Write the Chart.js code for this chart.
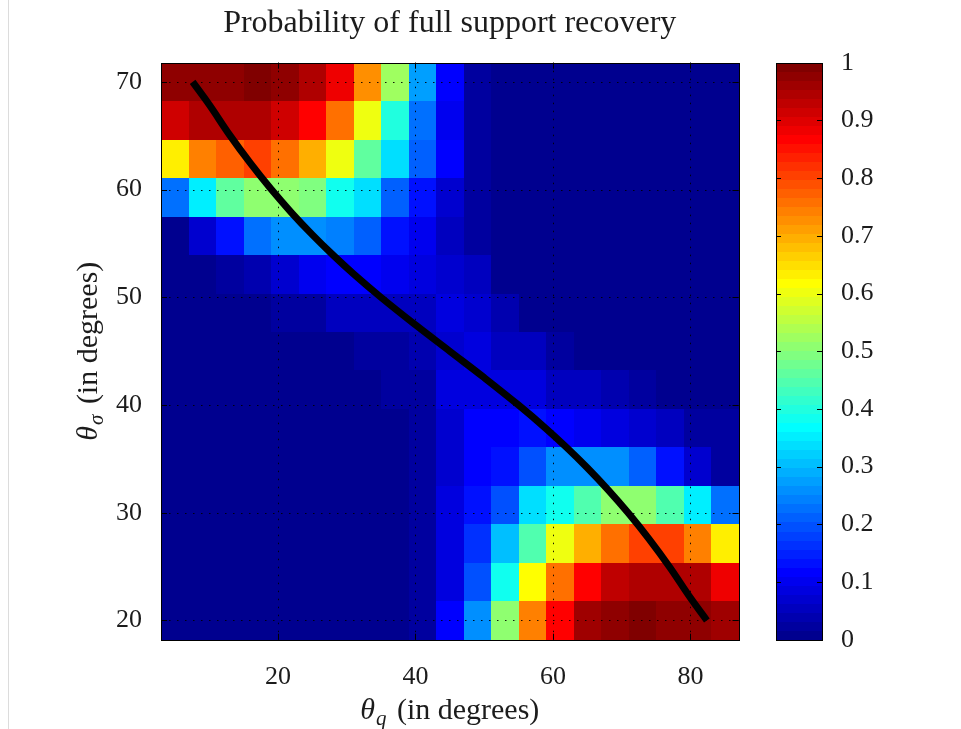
<!DOCTYPE html>
<html>
<head>
<meta charset="utf-8">
<title>Probability of full support recovery</title>
<script src="https://cdn.jsdelivr.net/npm/chart.js@4.4.1/dist/chart.umd.min.js"></script>
<style>
  body { margin: 0; background: #fff; }
  #wrap { position: relative; width: 961px; height: 729px; }
  #wrap canvas { position: absolute; left: 0; top: 0; }
  #edge { position: absolute; left: 8px; top: 0; width: 1px; height: 729px; background: #dcdcdc; }
</style>
</head>
<body>
<div id="wrap">
  <canvas id="heat" width="961" height="729"></canvas>
  <canvas id="cbar" width="961" height="729"></canvas>
  <div id="edge"></div>
</div>
<script>
// grid of the experiment (degrees)
const thetaQ = [5, 9, 13, 17, 21, 25, 29, 33, 37, 41, 45, 49, 53, 57, 61, 65, 69, 73, 77, 81, 85];
const thetaSigma = [20, 23.57, 27.14, 30.71, 34.29, 37.86, 41.43, 45, 48.57, 52.14, 55.71, 59.29, 62.86, 66.43, 70];

// recovery rate, one row per thetaSigma value (lowest first), one entry per thetaQ
const recovery = [
  [0, 0, 0, 0, 0, 0, 0, 0, 0.01, 0.02, 0.12, 0.26, 0.50, 0.74, 0.87, 0.96, 0.98, 1.00, 0.98, 0.97, 0.96],
  [0, 0, 0, 0, 0, 0, 0, 0, 0.01, 0.02, 0.09, 0.20, 0.38, 0.62, 0.75, 0.86, 0.93, 0.95, 0.95, 0.94, 0.89],
  [0, 0, 0, 0, 0, 0, 0, 0, 0.01, 0.02, 0.08, 0.16, 0.30, 0.45, 0.60, 0.70, 0.75, 0.80, 0.80, 0.74, 0.63],
  [0, 0, 0, 0, 0, 0, 0, 0, 0.01, 0.02, 0.08, 0.13, 0.20, 0.33, 0.38, 0.45, 0.50, 0.50, 0.44, 0.35, 0.22],
  [0, 0, 0, 0, 0, 0, 0, 0, 0.01, 0.02, 0.07, 0.11, 0.14, 0.20, 0.26, 0.26, 0.25, 0.21, 0.14, 0.07, 0.02],
  [0, 0, 0, 0, 0, 0, 0, 0, 0.01, 0.02, 0.07, 0.11, 0.12, 0.13, 0.11, 0.10, 0.08, 0.07, 0.05, 0.03, 0.02],
  [0, 0, 0, 0, 0, 0, 0, 0.01, 0.02, 0.03, 0.08, 0.08, 0.09, 0.09, 0.06, 0.06, 0.04, 0.02, 0.01, 0.01, 0.01],
  [0, 0, 0, 0, 0, 0, 0, 0.03, 0.03, 0.04, 0.07, 0.08, 0.06, 0.05, 0.03, 0, 0, 0, 0, 0, 0],
  [0, 0, 0, 0, 0.02, 0.03, 0.06, 0.06, 0.05, 0.06, 0.08, 0.07, 0.04, 0, 0, 0, 0, 0, 0, 0, 0],
  [0, 0.01, 0.02, 0.04, 0.07, 0.10, 0.12, 0.12, 0.10, 0.08, 0.07, 0.05, 0, 0, 0, 0, 0, 0, 0, 0, 0],
  [0.01, 0.07, 0.14, 0.22, 0.25, 0.26, 0.24, 0.21, 0.13, 0.10, 0.06, 0.02, 0, 0, 0, 0, 0, 0, 0, 0, 0],
  [0.22, 0.35, 0.46, 0.50, 0.51, 0.49, 0.39, 0.33, 0.21, 0.13, 0.07, 0.03, 0, 0, 0, 0, 0, 0, 0, 0, 0],
  [0.63, 0.74, 0.77, 0.80, 0.76, 0.69, 0.60, 0.46, 0.33, 0.21, 0.11, 0.03, 0, 0, 0, 0, 0, 0, 0, 0, 0],
  [0.91, 0.95, 0.95, 0.95, 0.92, 0.87, 0.76, 0.60, 0.40, 0.22, 0.10, 0.03, 0, 0, 0, 0, 0, 0, 0, 0, 0],
  [0.97, 0.97, 0.97, 1.00, 0.97, 0.95, 0.88, 0.73, 0.52, 0.28, 0.12, 0.03, 0, 0, 0, 0, 0, 0, 0, 0, 0]
];

// theoretical boundary
const boundaryQ = [7.6, 10, 13, 16, 19, 22, 25, 28, 31, 35, 40, 45, 50, 55, 59, 62, 65, 68, 71, 74, 77, 80, 82.4];
const boundarySigma = [70.0, 67.9, 65.06, 62.45, 60.05, 57.85, 55.82, 53.94, 52.18, 50.0, 47.45, 45.0,
  42.55, 40.0, 37.82, 36.06, 34.18, 32.15, 29.95, 27.55, 24.94, 22.1, 20.0];

const xTicks = [20, 40, 60, 80];
const yTicks = [20, 30, 40, 50, 60, 70];
const cbarTicks = [0, 0.1, 0.2, 0.3, 0.4, 0.5, 0.6, 0.7, 0.8, 0.9, 1];
const cbarLabels = ['0', '0.1', '0.2', '0.3', '0.4', '0.5', '0.6', '0.7', '0.8', '0.9', '1'];

const serif = '"Liberation Serif", "Times New Roman", serif';
const ink = '#1c1c1c';

// matlab style jet(64)
function jetRGB(i) {
  const u = k => (k < 1 || k > 47) ? 0 : k <= 16 ? k / 16 : k <= 31 ? 1 : (48 - k) / 16;
  return [u(i - 24), u(i - 8), u(i + 8)];
}
function jet(v) {
  const i = Math.min(64, Math.max(1, Math.floor(v * 64) + 1));
  const c = jetRGB(i).map(t => Math.round(t * 255));
  return `rgb(${c[0]},${c[1]},${c[2]})`;
}

function edges(vals) {
  const e = [vals[0] - (vals[1] - vals[0]) / 2];
  for (let i = 0; i < vals.length - 1; i++) e.push((vals[i] + vals[i + 1]) / 2);
  e.push(vals[vals.length - 1] + (vals[vals.length - 1] - vals[vals.length - 2]) / 2);
  return e;
}
const qEdges = edges(thetaQ);
const sEdges = edges(thetaSigma);

function drawTicksInward(ctx, a, xs, ys, len) {
  ctx.save();
  ctx.strokeStyle = '#000';
  ctx.lineWidth = 1;
  ctx.beginPath();
  xs.forEach(px => {
    const p = Math.round(px) + 0.5;
    ctx.moveTo(p, a.bottom); ctx.lineTo(p, a.bottom - len);
    ctx.moveTo(p, a.top); ctx.lineTo(p, a.top + len);
  });
  ys.forEach(py => {
    const p = Math.round(py) + 0.5;
    ctx.moveTo(a.left, p); ctx.lineTo(a.left + len, p);
    ctx.moveTo(a.right, p); ctx.lineTo(a.right - len, p);
  });
  ctx.stroke();
  ctx.strokeRect(Math.round(a.left) + 0.5, Math.round(a.top) + 0.5,
    Math.round(a.right) - Math.round(a.left), Math.round(a.bottom) - Math.round(a.top));
  ctx.restore();
}

function drawAxisTitle(ctx, cx, base, sym, sub, rest, size) {
  const main = `italic ${size}px ${serif}`;
  const small = `italic ${Math.round(size * 0.7)}px ${serif}`;
  const plain = `${size}px ${serif}`;
  ctx.font = main; const w1 = ctx.measureText(sym).width;
  ctx.font = small; const w2 = ctx.measureText(sub).width;
  ctx.font = plain; const w3 = ctx.measureText(rest).width;
  const gap = size * 0.35;
  let x = cx - (w1 + 1 + w2 + gap + w3) / 2;
  ctx.fillStyle = ink;
  ctx.textAlign = 'left';
  ctx.textBaseline = 'alphabetic';
  ctx.font = main; ctx.fillText(sym, x, base); x += w1 + 1;
  ctx.font = small; ctx.fillText(sub, x, base + size * 0.2); x += w2 + gap;
  ctx.font = plain; ctx.fillText(rest, x, base);
}

const heatmapPlugin = {
  id: 'heatmap',
  beforeDraw(chart) {
    const ctx = chart.ctx;
    ctx.save();
    ctx.fillStyle = '#fff';
    ctx.fillRect(0, 0, chart.width, chart.height);
    ctx.restore();
  },
  beforeDatasetsDraw(chart) {
    const { ctx, chartArea: a, scales: { x, y } } = chart;
    ctx.save();
    recovery.forEach((row, j) => {
      const top = Math.round(y.getPixelForValue(sEdges[j + 1]));
      const bot = Math.round(y.getPixelForValue(sEdges[j]));
      row.forEach((v, i) => {
        const l = Math.round(x.getPixelForValue(qEdges[i]));
        const r = Math.round(x.getPixelForValue(qEdges[i + 1]));
        ctx.fillStyle = jet(v);
        ctx.fillRect(l, top, r - l, bot - top);
      });
    });
    // dotted grid
    ctx.strokeStyle = 'rgba(0,0,0,0.9)';
    ctx.lineWidth = 1;
    ctx.setLineDash([1.5, 6.5]);
    ctx.beginPath();
    xTicks.forEach(t => {
      const p = Math.round(x.getPixelForValue(t)) + 0.5;
      ctx.moveTo(p, a.top); ctx.lineTo(p, a.bottom);
    });
    yTicks.forEach(t => {
      const p = Math.round(y.getPixelForValue(t)) + 0.5;
      ctx.moveTo(a.left, p); ctx.lineTo(a.right, p);
    });
    ctx.stroke();
    ctx.restore();
    drawTicksInward(ctx, a, xTicks.map(t => x.getPixelForValue(t)), yTicks.map(t => y.getPixelForValue(t)), 6);
  },
  afterDraw(chart) {
    const { ctx, chartArea: a } = chart;
    ctx.save();
    drawAxisTitle(ctx, (a.left + a.right) / 2, 719, '\u03b8', 'q', '(in degrees)', 30);
    ctx.translate(97, (a.top + a.bottom) / 2);
    ctx.rotate(-Math.PI / 2);
    drawAxisTitle(ctx, 0, 0, '\u03b8', '\u03c3', '(in degrees)', 30);
    ctx.restore();
  }
};

const colorbarPlugin = {
  id: 'colorbar',
  beforeDatasetsDraw(chart) {
    const { ctx, chartArea: a, scales: { y } } = chart;
    ctx.save();
    for (let k = 0; k < 64; k++) {
      const top = Math.round(y.getPixelForValue((k + 1) / 64));
      const bot = Math.round(y.getPixelForValue(k / 64));
      ctx.fillStyle = jet((k + 0.5) / 64);
      ctx.fillRect(Math.round(a.left), top, Math.round(a.right) - Math.round(a.left), bot - top);
    }
    ctx.restore();
    drawTicksInward(ctx, a, [], cbarTicks.map(t => y.getPixelForValue(t)), 5);
  }
};

const tickFont = { family: serif, size: 26 };

new Chart(document.getElementById('heat'), {
  type: 'scatter',
  data: {
    datasets: [{
      type: 'line',
      data: boundaryQ.map((q, i) => ({ x: q, y: boundarySigma[i] })),
      borderColor: '#000',
      borderWidth: 7,
      borderCapStyle: 'butt',
      pointRadius: 0,
      tension: 0.4,
      fill: false
    }]
  },
  options: {
    responsive: false,
    devicePixelRatio: 1,
    animation: false,
    layout: { padding: { left: 0, top: 0, right: 222.5, bottom: 0 } },
    plugins: {
      legend: { display: false },
      tooltip: { enabled: false },
      title: {
        display: true,
        text: 'Probability of full support recovery',
        fullSize: false,
        color: ink,
        font: { family: serif, size: 32, weight: 'normal' },
        padding: { top: 4, bottom: 20.3 }
      }
    },
    scales: {
      x: {
        type: 'linear',
        min: qEdges[0],
        max: qEdges[qEdges.length - 1],
        grid: { display: false },
        border: { display: false },
        afterBuildTicks: s => { s.ticks = xTicks.map(v => ({ value: v })); },
        afterFit: s => { s.height = 89.3; },
        ticks: { color: ink, font: tickFont, padding: 14 }
      },
      y: {
        type: 'linear',
        min: sEdges[0],
        max: sEdges[sEdges.length - 1],
        grid: { display: false },
        border: { display: false },
        afterBuildTicks: s => { s.ticks = yTicks.map(v => ({ value: v })); },
        afterFit: s => { s.width = 161; },
        ticks: { color: ink, font: tickFont, padding: 11 }
      }
    }
  },
  plugins: [heatmapPlugin]
});

new Chart(document.getElementById('cbar'), {
  type: 'scatter',
  data: { datasets: [] },
  options: {
    responsive: false,
    devicePixelRatio: 1,
    animation: false,
    layout: { padding: { left: 776, top: 62.7, right: 0, bottom: 89.3 } },
    plugins: { legend: { display: false }, tooltip: { enabled: false } },
    scales: {
      x: { display: false, min: 0, max: 1 },
      y: {
        position: 'right',
        min: 0,
        max: 1,
        grid: { display: false },
        border: { display: false },
        afterBuildTicks: s => { s.ticks = cbarTicks.map(v => ({ value: v })); },
        afterFit: s => { s.width = 139; },
        ticks: { color: ink, font: tickFont, padding: 11, callback: (v, i) => cbarLabels[i] }
      }
    }
  },
  plugins: [colorbarPlugin]
});
</script>
</body>
</html>
